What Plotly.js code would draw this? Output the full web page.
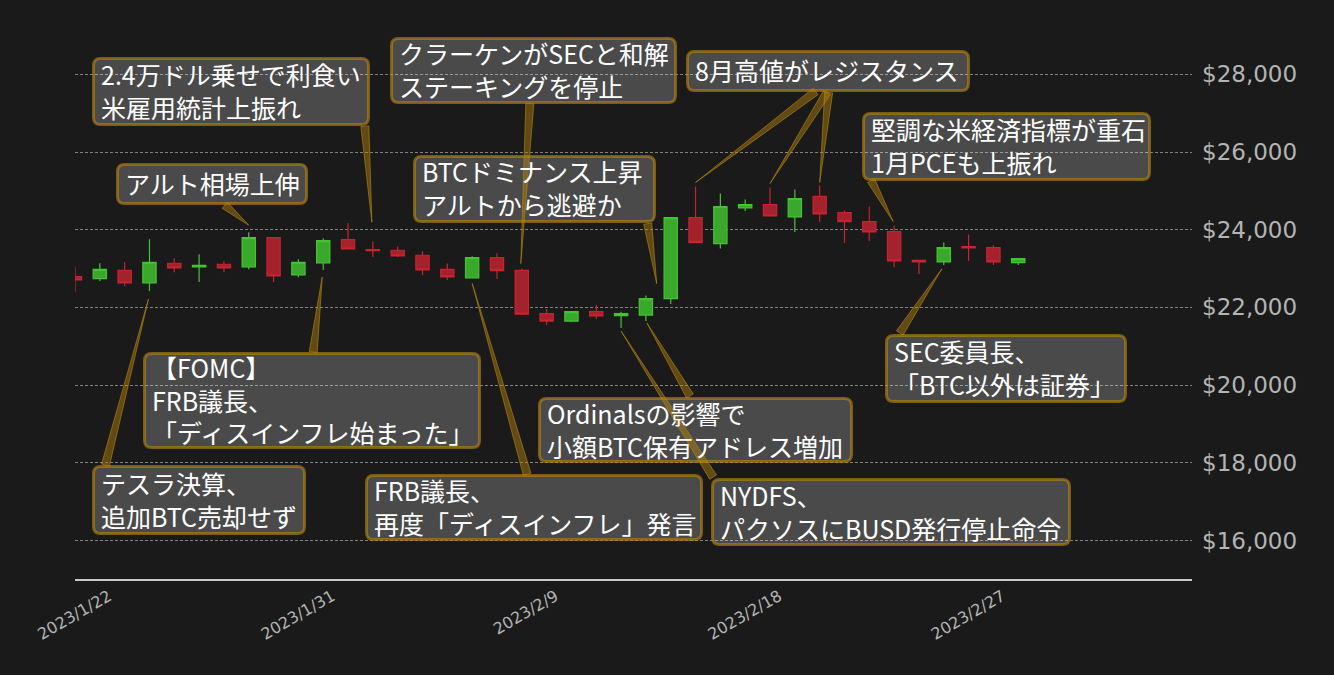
<!DOCTYPE html>
<html>
<head>
<meta charset="utf-8">
<script src="https://cdn.plot.ly/plotly-3.0.1.min.js"></script>
<style>
html,body{margin:0;padding:0;background:#1a1a1a;}
#chart{width:1334px;height:675px;}
</style>
</head>
<body>
<div id="chart"></div>
<script>
// ---------------- data ----------------
const dates = ['2023-01-21','2023-01-22','2023-01-23','2023-01-24','2023-01-25','2023-01-26','2023-01-27','2023-01-28','2023-01-29','2023-01-30',
  '2023-01-31','2023-02-01','2023-02-02','2023-02-03','2023-02-04','2023-02-05','2023-02-06','2023-02-07','2023-02-08','2023-02-09',
  '2023-02-10','2023-02-11','2023-02-12','2023-02-13','2023-02-14','2023-02-15','2023-02-16','2023-02-17','2023-02-18','2023-02-19',
  '2023-02-20','2023-02-21','2023-02-22','2023-02-23','2023-02-24','2023-02-25','2023-02-26','2023-02-27','2023-02-28'];
const openP  = [22794,22742,22956,22629,23137,23041,23111,23041,23799,22835,
  23144,23747,23490,23472,23343,22982,22758,23284,22956,21840,
  21650,21892,21789,21804,22227,24314,23644,24562,24649,24330,
  24856,24443,24211,23954,23214,23170,23567,23541,23155];
const highP  = [23052,23137,23163,23755,23266,23369,23188,23936,23799,23240,
  23781,24168,23704,23567,23446,23129,23317,23394,23000,21951,
  21892,22072,21892,22304,24314,25113,24933,24778,25087,25036,
  25139,24495,24598,24108,23214,23670,23876,23601,23258];
const lowP   = [22397,22681,22552,22423,22905,22655,22905,22982,22655,22776,
  22964,23505,23299,23299,22835,22706,22750,22732,21804,21547,
  21624,21701,21469,21650,22088,23670,23516,24484,24356,23943,
  24201,23660,23711,23041,22861,23093,23196,23093,23093];
const closeP = [22706,22982,22629,23163,23016,23085,23016,23799,22809,23163,
  23722,23505,23464,23325,22964,22784,23284,22949,21830,21650,
  21892,21779,21840,22227,24314,23670,24598,24649,24356,24804,
  24407,24211,23943,23196,23170,23541,23531,23170,23258];

const tickDates  = ['2023-01-22','2023-01-31','2023-02-09','2023-02-18','2023-02-27'];
const tickLabels = ['2023/1/22','2023/1/31','2023/2/9','2023/2/18','2023/2/27'];
const priceTicks  = [16000,18000,20000,22000,24000,26000,28000];
const priceLabels = ['$16,000','$18,000','$20,000','$22,000','$24,000','$26,000','$28,000'];

const noteLines = [
  ['2.4万ドル乗せで利食い','米雇用統計上振れ'],
  ['アルト相場上伸'],
  ['クラーケンがSECと和解','ステーキングを停止'],
  ['BTCドミナンス上昇','アルトから逃避か'],
  ['8月高値がレジスタンス'],
  ['堅調な米経済指標が重石','1月PCEも上振れ'],
  ['【FOMC】','FRB議長、','「ディスインフレ始まった」'],
  ['テスラ決算、','追加BTC売却せず'],
  ['FRB議長、','再度「ディスインフレ」発言'],
  ['Ordinalsの影響で','小額BTC保有アドレス増加'],
  ['NYDFS、','パクソスにBUSD発行停止命令'],
  ['SEC委員長、','「BTC以外は証券」']
];
// which candle each arrow points at, and which price of it
const arrowCandle = [12, 7, 18, 24, 25, 28, 30, 33, 10, 3, 16, 23, 22, 35];
const arrowField  = ['h','h','h','o','h','h','h','h','l','l','l','l','l','l'];

// ---------------- layout geometry (pixels) ----------------
const W = 1334, H = 675;
const ML = 75, MR = 142, MT = 0, MB = 96;
const PW = W - ML - MR, PH = H - MT - MB;
// annotation boxes [x0,y0,x1,y1]
const boxPx = [
  [92,57,370,126],[116,163,308,205],[390,37,677,104],[413,155,656,223],
  [686,50,970,92],[862,112,1151,181],[143,352,481,449],[92,465,306,535],
  [365,474,703,541],[538,397,853,463],[711,478,1071,546],[885,334,1127,403]
];
// arrow tip and tail offsets (screen px, y down) relative to target price point
const arrowTip  = [[-1,-19],[0,-7],[-1,-5],[-14,-15],[0,-4],[0,-4],[0,-3],[-1,-4],[-1,7],[-1,8],[0,5],[1,2],[0,3],[-2,4]];
const arrowTail = [[-8,-115],[-24,-27],[8,-165],[-23,-75],[120,-95],[57,-95],[9,-93],[-23,-45],[-10,82],[-44,174],[55,196],[44,75],[92,149],[-44,68]];

const px2paperX = x => (x - ML) / PW;
const px2paperY = y => (PH - (y - MT)) / PH;

const GOLD_LINE = 'rgba(184,134,11,0.62)';
const GOLD_FILL = 'rgba(184,134,11,0.45)';
const BOX_FILL  = 'rgba(255,255,255,0.21)';
const TEXTFONT = {family:'"Noto Sans CJK JP", "Noto Sans", sans-serif', size:25, color:'#ffffff'};
const f1 = v => v.toFixed(1);

const annotations = [];
const boxShapes = [];
boxPx.forEach((b, k) => {
  const [x0,y0,x1,y1] = b;
  const hw = (x1-x0)/2 - 1.5, hh = (y1-y0)/2 - 1.5, r = 7;
  const path = 'M'+f1(-hw+r)+','+f1(-hh)+' L'+f1(hw-r)+','+f1(-hh)+
    ' Q'+f1(hw)+','+f1(-hh)+' '+f1(hw)+','+f1(-hh+r)+
    ' L'+f1(hw)+','+f1(hh-r)+
    ' Q'+f1(hw)+','+f1(hh)+' '+f1(hw-r)+','+f1(hh)+
    ' L'+f1(-hw+r)+','+f1(hh)+
    ' Q'+f1(-hw)+','+f1(hh)+' '+f1(-hw)+','+f1(hh-r)+
    ' L'+f1(-hw)+','+f1(-hh+r)+
    ' Q'+f1(-hw)+','+f1(-hh)+' '+f1(-hw+r)+','+f1(-hh)+' Z';
  boxShapes.push({
    type:'path', xref:'paper', yref:'paper', xsizemode:'pixel', ysizemode:'pixel',
    xanchor:px2paperX((x0+x1)/2), yanchor:px2paperY((y0+y1)/2), path:path,
    fillcolor:BOX_FILL, line:{color:GOLD_LINE, width:3}, layer:'above'
  });
  annotations.push({
    xref:'paper', yref:'paper', x:px2paperX(x0+8), y:px2paperY((y0+y1)/2 - 1),
    xanchor:'left', yanchor:'middle', align:'left', showarrow:false,
    text:noteLines[k].join('<br>'), borderpad:0, font:TEXTFONT
  });
});

const priceOf = (i, f) => f==='h' ? highP[i] : f==='l' ? lowP[i] : f==='o' ? openP[i] : closeP[i];
const arrowShapes = arrowCandle.map((ci, k) => {
  const tip = [arrowTip[k][0], -arrowTip[k][1]];
  const tail = [arrowTail[k][0], -arrowTail[k][1]];
  const dx = tail[0]-tip[0], dy = tail[1]-tip[1];
  const len = Math.hypot(dx, dy);
  const nx = -dy/len*4, ny = dx/len*4;
  const p = (a,b) => f1(a)+','+f1(b);
  return {
    type:'path', xref:'x', yref:'y', xsizemode:'pixel', ysizemode:'pixel',
    xanchor:dates[ci], yanchor:priceOf(ci, arrowField[k]),
    path:'M'+p(tip[0],tip[1])+' L'+p(tail[0]+nx,tail[1]+ny)+' L'+p(tail[0]-nx,tail[1]-ny)+' Z',
    fillcolor:GOLD_FILL, line:{color:GOLD_LINE, width:1}, layer:'above'
  };
});

const trace = {
  type:'candlestick', x:dates, open:openP, high:highP, low:lowP, close:closeP,
  increasing:{line:{color:'#45c433', width:1.2}, fillcolor:'#3aa82a'},
  decreasing:{line:{color:'#c9232f', width:1.2}, fillcolor:'#a3222d'},
  hoverinfo:'skip', showlegend:false
};

const layout = {
  width:W, height:H,
  margin:{l:ML, r:MR, t:MT, b:MB, pad:0},
  paper_bgcolor:'#1a1a1a', plot_bgcolor:'#1a1a1a',
  boxgap:0.235, boxgroupgap:0.3,
  showlegend:false,
  xaxis:{
    type:'date', range:['2023-01-21','2023-03-07'],
    rangeslider:{visible:false},
    showgrid:false, zeroline:false,
    showline:true, linecolor:'#c8c8c8', linewidth:2,
    tickmode:'array', tickvals:tickDates, ticktext:tickLabels,
    tickangle:-30, ticks:'', ticklabelshift:9,
    tickfont:{family:'"DejaVu Sans", sans-serif', size:16, color:'#b4b4b4'},
    automargin:false, fixedrange:true
  },
  yaxis:{
    side:'right', range:[15010, 29913],
    tickmode:'array', tickvals:priceTicks, ticktext:priceLabels,
    showgrid:true, gridcolor:'rgba(200,200,200,0.75)', gridwidth:0.8, griddash:'3px,2px',
    zeroline:false, showline:false, ticks:'',
    ticklabelstandoff:9,
    tickfont:{family:'"DejaVu Sans", sans-serif', size:23, color:'#b4b4b4'},
    automargin:false, fixedrange:true
  },
  annotations:annotations,
  shapes:boxShapes.concat(arrowShapes)
};

Plotly.newPlot('chart', [trace], layout, {staticPlot:true, displayModeBar:false});
</script>
</body>
</html>
